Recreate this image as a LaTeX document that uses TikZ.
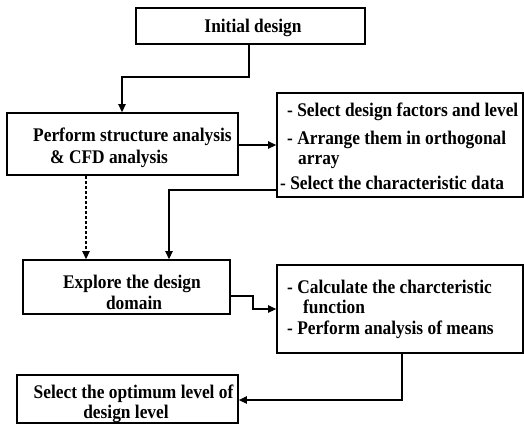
\documentclass[tikz,border=0pt]{standalone}
\usepackage{fontspec}
\setmainfont{Liberation Serif}[FakeStretch=0.9]
\usetikzlibrary{arrows.meta}
\tikzset{
  boxnode/.style={draw, line width=1.8pt, rectangle, inner sep=0pt},
  txt/.style={inner sep=0pt, font=\fontsize{19.3}{21}\selectfont\bfseries},
  conn/.style={line width=1.2pt, -{Triangle[length=8pt,width=7.5pt]}},
  dconn/.style={conn, dashed, dash pattern=on 3pt off 2pt}
}
\begin{document}
\begin{tikzpicture}[x=1pt,y=-1pt]
\useasboundingbox (0,0) rectangle (524,426);
% boxes
\node[boxnode, minimum width=229pt, minimum height=36pt] (b1) at (250.5,26) {};
\node[boxnode, minimum width=231pt, minimum height=62pt] (b2) at (122.5,144) {};
\node[boxnode, minimum width=246pt, minimum height=104pt] (b3) at (400,145) {};
\node[boxnode, minimum width=207pt, minimum height=54pt] (b4) at (126.5,287) {};
\node[boxnode, minimum width=246pt, minimum height=88pt] (b5) at (400,309) {};
\node[boxnode, minimum width=221pt, minimum height=48pt] (b6) at (127.5,399) {};
% texts
\node[txt, anchor=base] (t1) at (253,32) {Initial design};
\node[txt, anchor=base west] (t2a) at (33,141) {Perform structure analysis};
\node[txt, anchor=base west] (t2b) at (50,163) {\& CFD analysis};
\node[txt, anchor=base west] (t3a) at (287,116) {- Select design factors and level};
\node[txt, anchor=base west] (t3b) at (287,144) {- Arrange them in orthogonal};
\node[txt, anchor=base west] (t3c) at (298,164) {array};
\node[txt, anchor=base west] (t3d) at (280,189) {- Select the characteristic data};
\node[txt, anchor=base] (t4a) at (132,288) {Explore the design};
\node[txt, anchor=base] (t4b) at (134,309) {domain};
\node[txt, anchor=base west] (t5a) at (287,293) {- Calculate the charcteristic};
\node[txt, anchor=base west] (t5b) at (303,313) {function};
\node[txt, anchor=base west] (t5c) at (287,334) {- Perform analysis of means};
\node[txt, anchor=base] (t6a) at (133.5,398) {Select the optimum level of};
\node[txt, anchor=base] (t6b) at (126,418) {design level};
% helper coordinates
\coordinate (k1) at (249,77);
\coordinate (k2) at (122,77);
\coordinate (k3) at (0,145);
\coordinate (k4) at (86,0);
\coordinate (k5) at (169,190);
\coordinate (k6) at (253,296);
\coordinate (k7) at (253,309);
\coordinate (k8) at (402,400);
% connectors
\draw[conn] (b1.south -| k1) |- (k2) -- (k2 |- b2.north);
\draw[conn] (b2.east |- k3) -- (b3.west |- k3);
\draw[dconn] (b2.south -| k4) -- (b4.north -| k4);
\draw[conn] (b3.west |- k5) -- (k5) -- (k5 |- b4.north);
\draw[conn] (b4.east |- k6) -- (k6) -- (k7) -- (b5.west |- k7);
\draw[conn] (b5.south -| k8) -- (k8) -- (b6.east |- k8);
\end{tikzpicture}
\end{document}
